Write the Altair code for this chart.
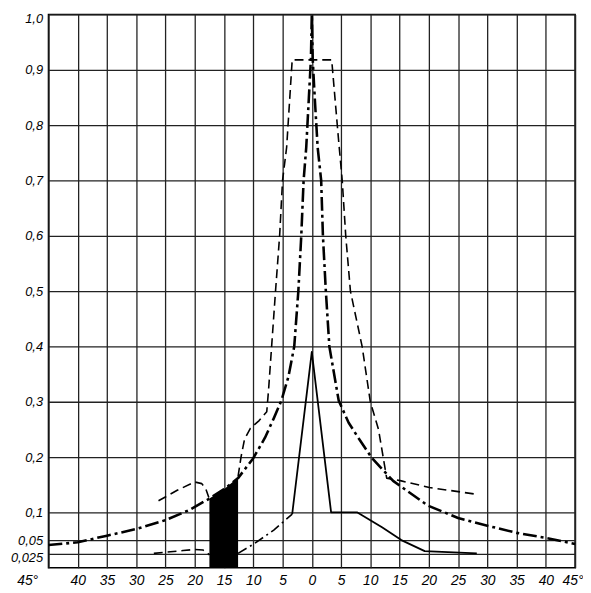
import altair as alt
import pandas as pd

# ---- data ----
# thick dash-dot curve
a_x = [-45, -40, -35, -30, -25, -21, -17.5, -15, -12.6, -10, -8, -6.5, -5.2, -4, -3, -2.3, -1.8, -1.4,
       -0.95, -0.5, -0.15, 0, 0.15, 0.5, 1.0, 1.6, 1.9, 2.4, 3.0, 4.6, 6.3, 8, 10.3, 13.9, 19.8, 25,
       30, 35, 40, 45]
a_y = [0.041, 0.046, 0.058, 0.07, 0.086, 0.104, 0.125, 0.142, 0.162, 0.198, 0.235, 0.27, 0.302, 0.345,
       0.40, 0.50, 0.60, 0.70, 0.76, 0.85, 0.92, 1.0, 0.92, 0.85, 0.76, 0.70, 0.60, 0.50, 0.40, 0.302,
       0.262, 0.234, 0.198, 0.157, 0.1125, 0.09, 0.076, 0.063, 0.054, 0.043]

# dashed curve: left fragment and main part
b1_x = [-26.2, -23, -20, -18.8, -18.1, -17.6]
b1_y = [0.121, 0.14, 0.155, 0.152, 0.142, 0.127]
b2_x = [-12.6, -12.1, -11.5, -10.5, -9, -7.7, -7.4, -6.8, -6.2, -5.5, -5.0, -4.3, -3.35,
        3.4, 4.6, 5.2, 5.8, 6.6, 8.6, 10, 11.4, 12.8, 15.3, 20.1, 28]
b2_y = [0.165, 0.2, 0.232, 0.252, 0.266, 0.282, 0.32, 0.41, 0.50, 0.60, 0.70, 0.76, 0.918,
        0.918, 0.77, 0.70, 0.60, 0.50, 0.40, 0.30, 0.25, 0.162, 0.157, 0.145, 0.133]

# lower curve: dashed fragment, dash-dot fragment, solid part
c1_x = [-27, -22, -20, -18.6, -17.8, -17.5]
c1_y = [0.026, 0.031, 0.033, 0.032, 0.027, 0.023]
c2_x = [-12.6, -9.9, -6.5, -3.35]
c2_y = [0.026, 0.043, 0.068, 0.097]
c3_x = [-3.35, 0, 3.3, 7.8, 12, 15.3, 19.3, 28.2]
c3_y = [0.097, 0.39, 0.1, 0.1, 0.073, 0.05, 0.030, 0.026]

# black filled band
fill_x = [-17.5, -15, -12.6]
fill_top = [0.125, 0.142, 0.163]

x_ticks = list(range(-45, 50, 5))
y_ticks = [0.025, 0.05, 0.1, 0.2, 0.3, 0.4, 0.5, 0.6, 0.7, 0.8, 0.9, 1.0]

FONT = "Liberation Sans"


def df(xs, ys):
    return pd.DataFrame({"x": xs, "y": ys, "i": list(range(len(xs)))})


X = alt.X(
    "x:Q",
    scale=alt.Scale(domain=[-45, 45], nice=False, zero=False),
    axis=alt.Axis(
        values=x_ticks, title=None, grid=True, ticks=False, domain=False,
        labelExpr="abs(datum.value) == 45 ? '45°' : '' + abs(datum.value)",
        labelFont=FONT, labelFontStyle="italic", labelFontSize=14, labelColor="black",
        labelPadding=6, labelFlush=False, labelOverlap=False, labelAngle=0,
        labelAlign={"condition": {"test": "abs(datum.value) == 45", "value": "right"}, "value": "center"},
        labelOffset={"condition": [{"test": "datum.value == -45", "value": -11},
                                   {"test": "datum.value == 45", "value": 8}],
                     "value": 0},
    ),
)
Y = alt.Y(
    "y:Q",
    scale=alt.Scale(domain=[0, 1], nice=False, zero=True),
    axis=alt.Axis(
        values=y_ticks, title=None, grid=True, ticks=False, domain=False,
        labelExpr="datum.value == 1 ? '1,0' : replace(format(datum.value, '.3~f'), '.', ',')",
        labelFont=FONT, labelFontStyle="italic", labelFontSize=13, labelColor="black",
        labelPadding=6, labelFlush=False, labelOverlap=False,
        labelOffset={"condition": {"test": "datum.value == 0.025 || datum.value == 1", "value": 4}, "value": 0},
    ),
)


def line(xs, ys, width, dash=None):
    kw = dict(color="black", strokeWidth=width, strokeCap="butt", strokeJoin="round")
    if dash:
        kw["strokeDash"] = dash
    return alt.Chart(df(xs, ys)).mark_line(**kw).encode(x=X, y=Y, order="i:Q")


fill = alt.Chart(df(fill_x, fill_top)).mark_area(color="black", opacity=1).encode(x=X, y=Y)

chart = alt.layer(
    fill,
    line(a_x, a_y, 2.6, [14, 4, 3, 4]),
    line(b1_x, b1_y, 1.6, [9, 5]),
    line(b2_x, b2_y, 1.6, [9, 5]),
    line(c1_x, c1_y, 1.6, [9, 5]),
    line(c2_x, c2_y, 1.6, [10, 4, 2, 4]),
    line(c3_x, c3_y, 1.8),
).properties(
    width=533, height=560,
    autosize=alt.AutoSizeParams(type="none"),
    padding={"left": 41, "top": 3, "right": 8, "bottom": 20},
).configure_view(
    stroke="black", strokeWidth=1.6
).configure_axis(
    gridColor="#222", gridWidth=1.3, gridOpacity=1
)

chart.save("out.html", embed_options={"renderer": "svg", "actions": False})
